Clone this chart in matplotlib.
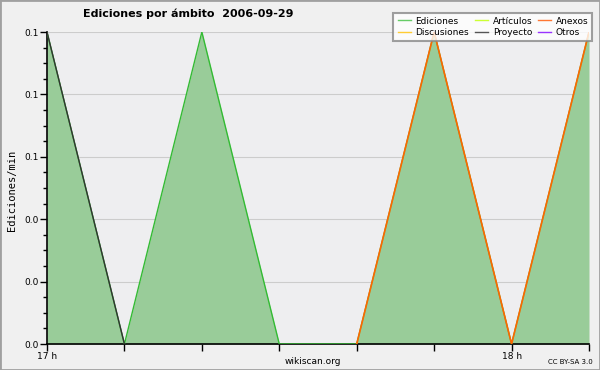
import matplotlib.pyplot as plt
import numpy as np
from matplotlib.ticker import MultipleLocator, FormatStrFormatter
from matplotlib.patches import Rectangle

# minutos desde las 17 h, cada 10 min
minutos = [0, 10, 20, 30, 40, 50, 60, 70]
ediciones = [0.1, 0.0, 0.1, 0.0, 0.0, 0.1, 0.0, 0.1]
proyecto = [0.1, 0.0, None, None, None, None, None, None]
anexos = [None, None, None, None, 0.0, 0.1, 0.0, 0.1]

leyenda = ["Ediciones", "Discusiones", "Artículos", "Proyecto", "Anexos", "Otros"]
colores = ["#66cc66", "#ffcc33", "#ccff33", "#555555", "#ff7733", "#9933ff"]

x = np.array(minutos, dtype=float)

fig = plt.figure(figsize=(6, 3.7), dpi=100, facecolor="#f0f0f0")
fig.patches.append(Rectangle((0, 0), 1, 1, transform=fig.transFigure,
                             fill=False, edgecolor="#a0a0a0", linewidth=2))
ax = fig.add_axes([47 / 600, 1 - 344 / 370, 542 / 600, 312 / 370])
ax.set_facecolor("#eeeef0")

ax.fill_between(x, ediciones, color="#99cc99", linewidth=0, zorder=2)
ax.plot(x, ediciones, color="#33bb33", linewidth=1, zorder=3)
ax.plot(x, [np.nan if v is None else v for v in proyecto], color="#333333", linewidth=1, zorder=4)
ax.plot(x, [np.nan if v is None else v for v in anexos], color="#ff6600", linewidth=1.2, zorder=4)

ax.set_xlim(0, 70)
ax.set_ylim(0, 0.1)
ax.xaxis.set_major_locator(plt.FixedLocator([0, 60]))
ax.xaxis.set_major_formatter(plt.FixedFormatter(["17 h", "18 h"]))
ax.xaxis.set_minor_locator(MultipleLocator(10))
ax.yaxis.set_major_locator(MultipleLocator(0.02))
ax.yaxis.set_minor_locator(MultipleLocator(0.005))
ax.yaxis.set_major_formatter(FormatStrFormatter("%.1f"))
ax.tick_params(axis="both", which="major", labelsize=6.5, length=5, width=1, pad=1)
ax.tick_params(axis="y", which="minor", length=3, width=1)
ax.tick_params(axis="x", which="minor", length=5, width=1)
ax.grid(axis="y", which="major", color="#cccccc", linewidth=0.8, zorder=1)
ax.set_axisbelow(True)
for s in ["top", "right"]:
    ax.spines[s].set_visible(False)
ax.spines["left"].set_linewidth(1.2)
ax.spines["bottom"].set_linewidth(1.2)

fig.text(12 / 600, 1 - 190 / 370, "Ediciones/min", rotation=90, ha="center", va="center",
         fontsize=7.5, family="DejaVu Sans Mono")

handles = [plt.Line2D([], [], color=c, linewidth=1) for c in colores]
leg = fig.legend(handles, leyenda, loc="upper right", bbox_to_anchor=(597 / 600, 1 - 8 / 370),
                 ncol=3, fontsize=6.5, frameon=True, fancybox=False, handlelength=1.5,
                 handletextpad=0.5, columnspacing=0.6, labelspacing=0.25, borderpad=0.45)
leg.get_frame().set_edgecolor("#888888")
leg.get_frame().set_linewidth(1.5)

fig.text(188 / 600, 1 - 14 / 370, "Ediciones por ámbito  2006-09-29", ha="center", va="center",
         fontsize=8, fontweight="bold")
fig.text(313 / 600, 1 - 361 / 370, "wikiscan.org", ha="center", va="center", fontsize=6.5)
fig.text(570 / 600, 1 - 362 / 370, "CC BY-SA 3.0", ha="center", va="center", fontsize=5)

fig.savefig("out.png", dpi=100, facecolor=fig.get_facecolor())
